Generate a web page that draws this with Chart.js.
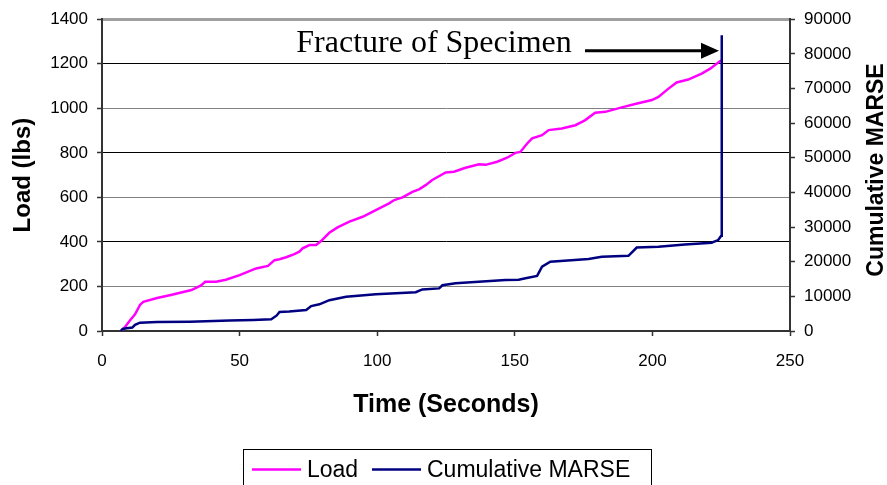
<!DOCTYPE html>
<html>
<head>
<meta charset="utf-8">
<script src="https://cdn.jsdelivr.net/npm/chart.js@4"></script>
<style>
body { margin: 0; background: #fff; }
#wrap { width: 887px; height: 485px; }
</style>
</head>
<body>
<div id="wrap"><canvas id="myChart" width="887" height="485"></canvas></div>
<script>
// Load curve (time in s, load in lbs)
var loadTime = [7, 8.5, 10, 12, 13.8, 15, 20, 25, 32.5, 36, 37.5, 41.5, 45, 50, 56, 60.3, 62.7,
    64.5, 66.9, 69.9, 71.7, 72.9, 75.4, 77.8, 79.6, 82.6, 85.6, 89.9, 94.7, 99.5, 104.3, 106.2,
    109.2, 112.8, 115.2, 117.6, 120, 124.9, 127.9, 132.1, 137, 139.4, 143.6, 147.2, 150.2, 152,
    154.5, 156.3, 159.9, 162.3, 167.1, 172, 174.4, 175.6, 179.2, 182.9, 188.9, 193.7, 199.8,
    202.2, 205.5, 208.8, 213, 217.9, 221, 224.5, 225.2];
var loadLbs = [0, 20, 45, 75, 117, 131, 148, 162, 184, 205, 221, 221, 230, 251, 281, 292, 318,
    322, 331, 345, 356, 371, 386, 386, 404, 441, 465, 491, 513, 543, 573, 588,
    600, 625, 636, 655, 678, 712, 715, 733, 749, 746, 760, 778, 800, 804,
    842, 865, 879, 902, 909, 924, 939, 947, 980, 984, 1004, 1019, 1037,
    1051, 1085, 1116, 1129, 1156, 1178, 1211, 1215];

// Cumulative MARSE curve
var marseTime = [6.8, 7.5, 9, 11, 12, 13.8, 20, 31.9, 46.4, 55, 61.5, 63.5, 64.5, 68, 74.2, 76, 79,
    82.6, 88.7, 99.5, 114, 116.4, 122.5, 123.7, 128.5, 146.6, 151.4, 153.9, 158.1, 159.9, 162.9,
    176.8, 181.6, 191.3, 194.3, 202.2, 211.8, 221.5, 223.9, 225, 225.2];
var marseCum = [0, 600, 800, 1000, 1800, 2400, 2600, 2700, 3000, 3200, 3400, 4500, 5500, 5600, 6060, 7200, 7700,
    8900, 9900, 10600, 11200, 12000, 12300, 13200, 13800, 14700, 14800, 15200, 15900, 18550, 20000,
    20770, 21400, 21700, 24100, 24300, 25000, 25500, 26250, 27500, 85400];

var seriesNames = ['Load', 'Cumulative MARSE'];
var seriesColors = ['#ff00ff', '#000080'];

function toPoints(xs, ys) {
    return xs.map(function (x, i) { return { x: x, y: ys[i] }; });
}
function plainNum(v) { return String(v); }

var sansFont = '"Liberation Sans", Arial, sans-serif';

// right axis title, arrow + text, legend box
var extras = {
    id: 'extras',
    afterDatasetsDraw: function (chart) {
        var ctx = chart.ctx;
        var xs = chart.scales.x, yl = chart.scales.y;
        var tipX = xs.getPixelForValue(224.2);
        var startX = xs.getPixelForValue(175.5);
        var ay = yl.getPixelForValue(1258);
        ctx.save();
        ctx.strokeStyle = '#000';
        ctx.fillStyle = '#000';
        ctx.lineWidth = 3;
        ctx.beginPath();
        ctx.moveTo(startX, ay);
        ctx.lineTo(tipX - 16, ay);
        ctx.stroke();
        ctx.beginPath();
        ctx.moveTo(tipX, ay);
        ctx.lineTo(tipX - 18, ay - 8);
        ctx.lineTo(tipX - 18, ay + 8);
        ctx.closePath();
        ctx.fill();

        ctx.font = '32px "Liberation Serif", "Times New Roman", serif';
        ctx.textAlign = 'left';
        ctx.textBaseline = 'alphabetic';
        ctx.fillText('Fracture of Specimen', xs.getPixelForValue(70.6), yl.getPixelForValue(1252));
        ctx.restore();
    },
    afterDraw: function (chart) {
        var ctx = chart.ctx;
        ctx.save();
        // right axis title
        ctx.translate(877, 170);
        ctx.rotate(-Math.PI / 2);
        ctx.font = 'bold 23px ' + sansFont;
        ctx.fillStyle = '#000';
        ctx.textAlign = 'center';
        ctx.textBaseline = 'middle';
        ctx.fillText('Cumulative MARSE', 0, 0);
        ctx.restore();

        // legend
        ctx.save();
        ctx.strokeStyle = '#000';
        ctx.lineWidth = 1;
        ctx.strokeRect(243.5, 449.5, 408, 45);
        ctx.font = '23px ' + sansFont;
        ctx.textBaseline = 'middle';
        ctx.textAlign = 'left';
        var ly = 469.5;
        var items = [{ x0: 252, x1: 301, tx: 307 }, { x0: 372, x1: 421, tx: 427 }];
        chart.data.datasets.forEach(function (ds, i) {
            ctx.strokeStyle = ds.borderColor;
            ctx.lineWidth = 2.5;
            ctx.beginPath();
            ctx.moveTo(items[i].x0, ly);
            ctx.lineTo(items[i].x1, ly);
            ctx.stroke();
            ctx.fillStyle = '#000';
            ctx.fillText(ds.label, items[i].tx, ly + 1);
        });
        ctx.restore();
    }
};

var ctx = document.getElementById('myChart');
var myChart = new Chart(ctx, {
    type: 'line',
    data: {
        datasets: [{
            label: seriesNames[0],
            data: toPoints(loadTime, loadLbs),
            borderColor: seriesColors[0],
            backgroundColor: seriesColors[0],
            borderWidth: 2.5,
            pointRadius: 0,
            tension: 0,
            yAxisID: 'y',
            order: 1
        }, {
            label: seriesNames[1],
            data: toPoints(marseTime, marseCum),
            borderColor: seriesColors[1],
            backgroundColor: seriesColors[1],
            borderWidth: 2.5,
            pointRadius: 0,
            tension: 0,
            yAxisID: 'y1',
            order: 0
        }]
    },
    options: {
        responsive: false,
        animation: false,
        devicePixelRatio: 1,
        layout: { padding: { top: 19, bottom: 55, left: 0, right: 0 } },
        plugins: {
            legend: { display: false },
            tooltip: { enabled: false }
        },
        scales: {
            x: {
                type: 'linear',
                min: 0,
                max: 250,
                ticks: { stepSize: 50, color: '#000', padding: 15, callback: plainNum, font: { family: sansFont, size: 17 } },
                grid: { drawOnChartArea: false, tickLength: 5, tickColor: '#333', tickWidth: 1.5 },
                border: { display: true, color: '#333', width: 2 },
                title: {
                    display: true, text: 'Time (Seconds)', color: '#000',
                    font: { family: sansFont, size: 25, weight: 'bold' },
                    padding: { top: 0, bottom: 10 }
                },
                afterFit: function (s) { s.height = 99; }
            },
            y: {
                position: 'left',
                min: 0,
                max: 1400,
                ticks: { stepSize: 200, color: '#000', padding: 9, callback: plainNum, font: { family: sansFont, size: 17 } },
                grid: {
                    color: function (c) {
                        var v = c.tick ? c.tick.value : 0;
                        if (v === 1400) return '#a0a0a0';
                        return (v === 400 || v === 800 || v === 1200) ? '#000' : '#808080';
                    },
                    lineWidth: function (c) { return (c.tick && c.tick.value === 1400) ? 3 : 1; },
                    tickLength: 5, tickColor: '#333', tickWidth: 1.5
                },
                border: { display: true, color: '#333', width: 2 },
                title: {
                    display: true, text: 'Load (lbs)', color: '#000',
                    font: { family: sansFont, size: 24, weight: 'bold' },
                    padding: { top: 9, bottom: 0 }
                },
                afterFit: function (s) { s.width = 102; }
            },
            y1: {
                position: 'right',
                min: 0,
                max: 90000,
                ticks: { stepSize: 10000, color: '#000', padding: 9, callback: plainNum, font: { family: sansFont, size: 17 } },
                grid: { drawOnChartArea: false, tickLength: 5, tickColor: '#333', tickWidth: 1.5 },
                border: { display: true, color: '#333', width: 2 },
                afterFit: function (s) { s.width = 97; }
            }
        }
    },
    plugins: [extras]
});
</script>
</body>
</html>
